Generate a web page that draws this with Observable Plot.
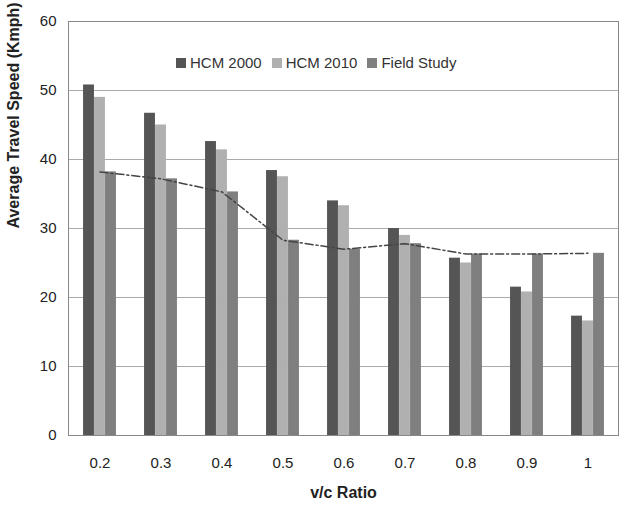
<!DOCTYPE html>
<html>
<head>
<script src="https://cdn.jsdelivr.net/npm/d3@7"></script>
<script src="https://cdn.jsdelivr.net/npm/@observablehq/plot@0.6"></script>
<style>
  body { margin: 0; background: #fff; font-family: Arial, "Liberation Sans", sans-serif; }
  #wrap { position: relative; width: 626px; }
  #legend { position: absolute; left: 176px; top: 54px; font-size: 15px; color: #333; display: flex; gap: 10px; }
  #legend span i { display: inline-block; width: 10px; height: 10px; margin-right: 4px; }
</style>
</head>
<body>
<div id="wrap">
  <div id="chart"></div>
  <div id="legend">
    <span><i style="background:#555"></i>HCM 2000</span>
    <span><i style="background:#b0b0b0"></i>HCM 2010</span>
    <span><i style="background:#7f7f7f"></i>Field Study</span>
  </div>
</div>
<script>
const ratios = ['0.2', '0.3', '0.4', '0.5', '0.6', '0.7', '0.8', '0.9', '1']
const hcm2000 = [50.8, 46.7, 42.6, 38.4, 34.0, 30.0, 25.7, 21.5, 17.3]
const hcm2010 = [49.0, 45.0, 41.4, 37.5, 33.3, 29.0, 25.0, 20.8, 16.6]
const field = [38.2, 37.2, 35.3, 28.3, 27.0, 27.8, 26.3, 26.3, 26.4]
const seriesNames = ['HCM 2000', 'HCM 2010', 'Field Study']
const colors = ['#555555', '#b0b0b0', '#7f7f7f']

const series = [hcm2000, hcm2010, field]
const rows = ratios.map((r, i) => ({r, v: field[i]}))

const band = (626 - 68 - 8) / ratios.length
const bw = 11, pad = (band - 3 * bw) / 2

let chart = Plot.plot({
  width: 626,
  height: 517,
  marginLeft: 68,
  marginRight: 8,
  marginTop: 21,
  marginBottom: 82,
  style: {fontSize: '15px', fontFamily: 'Arial, Liberation Sans, sans-serif', color: '#222'},
  x: {domain: ratios, padding: 0, label: null},
  y: {domain: [0, 60], ticks: d3.range(0, 61, 10), label: null},
  marks: [
    Plot.gridY({ticks: d3.range(10, 61, 10), stroke: '#aaa', strokeOpacity: 1}),
    Plot.frame({stroke: '#888'}),
    ...series.map((s, k) => Plot.barY(ratios.map((r, i) => ({r, v: s[i]})), {
      x: 'r', y: 'v', fill: colors[k],
      insetLeft: pad + bw * k, insetRight: band - pad - bw * (k + 1)
    })),
    Plot.line(rows, {x: 'r', y: 'v', stroke: '#444', strokeWidth: 1.5, strokeDasharray: '8,3,2,3'}),
    Plot.axisY({ticks: d3.range(0, 61, 10), tickSize: 0, tickPadding: 12, label: null}),
    Plot.axisX({tickSize: 0, tickPadding: 22, label: null}),
    Plot.text(['Average Travel Speed (Kmph)'], {frameAnchor: 'left', dx: -55, rotate: -90, fontWeight: 'bold', fontSize: 16}),
    Plot.text(['v/c Ratio'], {frameAnchor: 'bottom', dy: 62, fontWeight: 'bold', fontSize: 16})
  ]
})
d3.select('#chart').append(() => chart)
</script>
</body>
</html>
